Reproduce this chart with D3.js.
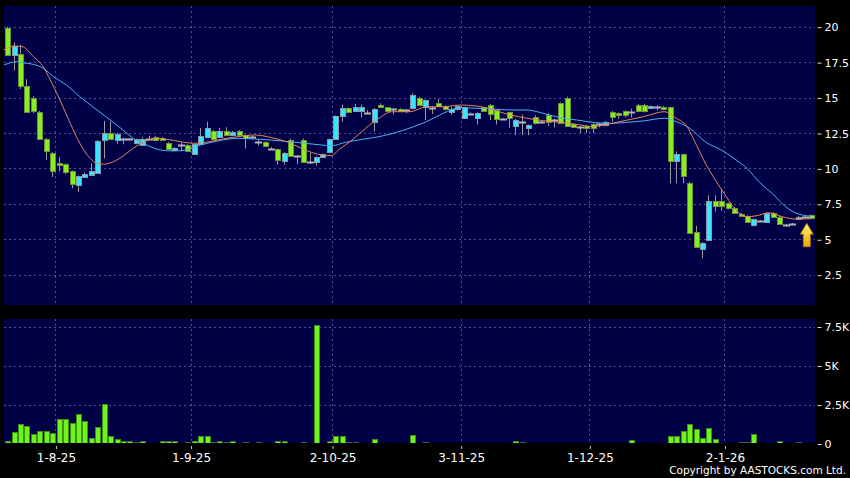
<!DOCTYPE html>
<html>
<head>
<meta charset="utf-8">
<script src="https://cdn.jsdelivr.net/npm/d3@7"></script>
<style>
body { margin: 0; background: #000; }
svg { display: block; }
text { font-family: "DejaVu Sans", sans-serif; fill: #fff; }
</style>
</head>
<body>
<svg id="chart" width="850" height="478"></svg>
<script>
// DATA (one entry per trading day)
var opens  = [19.9,18.05,18.05,15.8,15.0,14.0,12.1,11.1,10.4,10.3,9.8,8.85,9.4,9.5,9.7,12.0,12.5,12.05,12.1,12.1,11.8,11.7,12.1,12.2,12.15,11.8,11.35,11.65,11.65,11.0,11.75,12.25,
  12.65,12.25,12.65,12.4,12.65,12.35,12.2,11.85,11.85,11.4,11.35,10.55,12.0,10.9,12.0,10.45,10.45,10.8,11.1,12.05,13.7,14.25,14.05,14.05,13.9,13.25,14.45,14.3,14.2,14.2,14.15,14.2,
  15.0,14.3,14.25,14.65,14.4,14.0,14.2,13.55,13.85,13.55,14.3,14.5,14.1,13.5,13.95,13.0,13.3,12.85,13.6,13.3,13.75,13.4,14.6,15.0,13.15,12.95,13.0,13.1,13.1,13.1,
  13.95,13.9,14.05,14.0,14.5,14.5,14.3,14.35,14.35,14.3,10.5,11.0,9.0,5.5,4.3,4.95,7.7,7.7,7.55,7.2,6.8,6.65,6.0,6.3,6.25,6.85,6.6,6.0,6.1,6.5,6.6,6.7];
var highs  = [20.0,18.9,18.7,16.3,15.1,14.05,12.15,11.15,10.8,10.35,9.85,9.5,9.7,10.35,12.0,13.35,13.3,12.5,12.15,12.15,12.1,12.2,12.3,12.3,12.2,11.85,11.5,11.85,11.7,11.75,12.85,13.3,
  12.7,12.85,12.9,12.65,12.7,12.4,12.3,12.0,11.9,11.5,11.4,11.15,12.1,10.95,12.1,11.1,10.85,11.05,12.1,13.75,14.5,14.3,14.55,14.5,14.1,14.25,14.6,14.35,14.25,14.25,14.2,15.3,
  15.05,14.85,14.4,14.9,14.45,14.35,14.45,14.35,13.95,13.95,14.35,14.55,14.15,13.55,14.0,13.5,13.8,13.1,13.75,13.35,13.9,13.5,14.65,15.05,13.2,13.0,13.05,13.2,13.2,13.35,
  14.05,13.95,14.1,14.2,14.55,14.55,14.45,14.45,14.4,14.35,11.2,11.05,9.05,5.95,4.8,8.1,8.1,8.55,7.6,7.25,6.85,6.7,6.45,6.35,6.9,6.9,6.65,6.1,6.15,6.65,6.65,6.75];
var lows   = [17.95,16.9,15.6,13.95,13.9,12.0,10.6,9.4,9.8,9.6,8.6,8.35,9.35,9.45,9.65,10.7,12.05,11.75,11.7,12.05,11.7,11.6,12.05,11.95,11.95,11.3,11.3,11.2,11.2,10.95,11.7,12.2,
  12.0,12.2,12.35,12.35,12.35,11.4,12.1,11.6,11.55,11.35,10.25,10.25,10.85,10.3,10.4,10.3,10.2,10.75,11.05,12.0,13.3,13.95,14.0,13.6,13.85,12.6,14.25,14.0,13.8,14.0,13.9,14.15,
  14.45,13.4,13.85,14.35,14.1,13.8,14.1,13.5,13.8,13.1,14.0,13.4,13.1,13.4,12.85,12.35,12.35,12.35,13.1,13.25,13.0,12.9,13.15,12.95,12.9,12.5,12.5,12.5,12.9,13.0,
  13.3,13.5,13.6,13.6,14.0,13.95,14.25,14.1,14.1,8.95,8.95,8.95,5.45,4.4,3.65,4.9,6.95,7.0,7.1,6.8,6.65,6.2,5.9,6.25,6.2,6.5,6.05,5.95,6.05,6.45,6.55,6.45];
var closes = [18.0,18.65,15.8,14.0,14.05,12.1,11.25,9.8,10.35,9.75,8.85,9.45,9.6,9.8,11.95,12.5,12.1,12.45,12.1,12.1,12.05,12.1,12.1,12.0,12.0,11.35,11.45,11.65,11.25,11.7,12.3,12.85,
  12.1,12.65,12.4,12.6,12.4,12.15,12.2,11.85,11.6,11.4,10.55,11.1,10.9,10.9,10.45,10.45,10.8,11.0,12.05,13.7,14.25,14.0,14.3,14.3,13.9,14.2,14.3,14.05,14.2,14.05,14.15,15.15,
  14.5,14.8,14.25,14.45,14.2,14.2,14.4,14.3,13.85,13.9,14.05,13.9,13.5,13.5,13.5,13.45,13.3,13.05,13.2,13.3,13.25,13.4,13.2,13.0,12.95,12.95,12.85,12.85,13.1,13.3,
  13.6,13.75,13.75,14.0,14.05,14.1,14.4,14.35,14.2,10.5,11.0,9.45,5.5,4.45,4.75,7.7,7.35,7.35,7.2,6.85,6.7,6.25,6.4,6.3,6.85,6.55,6.1,6.0,6.1,6.6,6.6,6.5];
var volumes = [170,720,1240,1110,600,830,830,700,1540,1540,1300,1900,1430,360,1040,2560,510,280,130,130,120,130,60,40,130,130,130,60,120,190,470,470,
  100,130,80,130,60,120,20,80,60,60,190,130,60,30,80,30,7580,60,130,470,470,120,100,60,60,260,40,10,10,60,10,550,
  60,120,40,40,20,20,20,30,60,60,20,20,20,30,30,170,120,40,20,20,30,20,40,60,60,30,50,20,30,40,
  40,50,50,210,40,20,20,20,20,470,500,790,1280,940,340,980,320,60,60,60,100,100,620,30,60,60,130,60,60,80,50,50];

// moving averages, read at sampled day positions
var shortIdx = [-0.5,1,2.3,4.1,5.6,6.7,8.2,9.8,11.3,12.9,13.9,15,16.5,18,19.6,21.7,23.2,24.8,26.9,29,31.5,33.4,35.9,38.5,41.1,43.7,46.3,48.9,50.4,51.5,53.6,55.7,57.8,59.8,62.6,65.2,67.8,70.4,73,75.6,78.2,80.8,83.3,85.9,88.5,91.1,93.7,96.3,98.9,102.2,104,105.6,107.2,108.6,110.2,111.8,113.4,115,116.4,118.5,120.5,122.6,125];
var shortMA  = [18.36,18.64,18.6,17.88,17.18,16.24,14.83,13.18,11.77,10.71,10.36,10.3,10.47,10.87,11.42,11.95,12.12,12.05,11.89,11.77,11.89,12.07,12.24,12.36,12.17,11.84,11.3,10.95,10.9,11.3,12.0,12.83,13.54,14.0,14.0,14.35,14.35,14.47,14.4,14.12,13.77,13.54,13.37,13.25,13.11,12.95,13.15,13.4,13.65,14.0,13.54,13.0,11.6,10.3,9.1,8.0,7.0,6.6,6.65,6.87,6.59,6.43,6.45];
var longIdx  = [-0.5,1.5,2.5,4,5.6,7.2,9.2,11.3,13.4,16,18,19.6,21.7,23.8,25.8,27.9,30,31.5,33.4,35.9,38.5,41.1,43.7,46.3,48.9,50.4,52.6,55.2,57.8,60.3,62.6,65.2,67.8,70.4,73,75.6,78.2,80.8,83.3,85.9,88.5,91.1,93.7,96.3,98.9,102.2,104,106.1,108.6,111,113,115,117,119,121,122.6,125];
var longMA   = [17.3,17.53,17.45,17.35,17.07,16.47,15.89,15.06,14.31,13.42,12.71,12.12,11.65,11.3,11.23,11.3,11.65,11.81,12.0,12.12,12.07,12.0,11.89,11.77,11.65,11.6,11.84,12.05,12.24,12.52,12.85,13.3,13.89,14.28,14.24,14.19,14.12,14.12,13.89,13.58,13.42,13.25,13.18,13.25,13.35,13.54,13.3,12.83,11.85,11.3,10.7,10.0,9.0,8.2,7.3,6.85,6.62];

var priceTicks = [2.5,5,7.5,10,12.5,15,17.5,20];
var volTicks = [0,2500,5000,7500];
var volTickLabels = ["0","2.5K","5K","7.5K"];
var dateTickIdx = [7,28,50,70,90,111];
var dateTickLabels = ["1-8-25","1-9-25","2-10-25","3-11-25","1-12-25","2-1-26"];

// LAYOUT
var panelL = 4, panelR = 815;
var mainTop = 6, mainBot = 305;
var volTop = 319, volBot = 443;

var svg = d3.select("#chart");
svg.append("rect").attr("width",850).attr("height",478).attr("fill","#000");

var x = d3.scaleLinear().domain([0, opens.length - 1]).range([7.2, 811.3]);
var yP = d3.scaleLinear().domain([0, 20]).range([310.1, 26.7]);
var yV = d3.scaleLinear().domain([0, 7500]).range([443.5, 326.5]);

var defs = svg.append("defs");
defs.append("clipPath").attr("id","clipMain").append("rect")
  .attr("x",panelL).attr("y",mainTop).attr("width",panelR-panelL).attr("height",mainBot-mainTop);
defs.append("clipPath").attr("id","clipVol").append("rect")
  .attr("x",panelL).attr("y",volTop).attr("width",panelR-panelL).attr("height",volBot-volTop);

var grad = defs.append("linearGradient").attr("id","arrowGrad").attr("x1",0).attr("y1",0).attr("x2",0).attr("y2",1);
grad.append("stop").attr("offset","0%").attr("stop-color","#fff27a");
grad.append("stop").attr("offset","100%").attr("stop-color","#f0a800");

// panels
svg.append("rect").attr("x",panelL).attr("y",mainTop).attr("width",panelR-panelL).attr("height",mainBot-mainTop).attr("fill","#000046");
svg.append("rect").attr("x",panelL).attr("y",volTop).attr("width",panelR-panelL).attr("height",volBot-volTop).attr("fill","#000046");

var gridStyle = function(sel) {
  sel.attr("stroke","#50508a").attr("stroke-width",1).attr("stroke-dasharray","2,3").attr("shape-rendering","crispEdges");
};

// horizontal grid
svg.append("g").selectAll("line").data(priceTicks).enter().append("line")
  .attr("x1",panelL).attr("x2",panelR)
  .attr("y1",d => Math.round(yP(d))+0.5).attr("y2",d => Math.round(yP(d))+0.5)
  .call(gridStyle);
svg.append("g").selectAll("line").data(volTicks.slice(1)).enter().append("line")
  .attr("x1",panelL).attr("x2",panelR)
  .attr("y1",d => Math.round(yV(d))+0.5).attr("y2",d => Math.round(yV(d))+0.5)
  .call(gridStyle);

// vertical grid in both panels
[[mainTop,mainBot],[volTop,volBot]].forEach(function(p) {
  svg.append("g").selectAll("line").data(dateTickIdx).enter().append("line")
    .attr("x1",d => Math.round(x(d+0.5))+0.5).attr("x2",d => Math.round(x(d+0.5))+0.5)
    .attr("y1",p[0]).attr("y2",p[1])
    .call(gridStyle);
});

// CANDLES
var days = d3.range(opens.length);
var candles = svg.append("g").attr("clip-path","url(#clipMain)");

candles.selectAll("line.wick").data(days).enter().append("line")
  .attr("class","wick")
  .attr("x1",i => Math.round(x(i))+0.5).attr("x2",i => Math.round(x(i))+0.5)
  .attr("y1",i => yP(highs[i])).attr("y2",i => yP(lows[i]))
  .attr("stroke","#9a9a9a").attr("stroke-width",1);

candles.selectAll("rect.body").data(days.filter(i => opens[i] !== closes[i])).enter().append("rect")
  .attr("class","body")
  .attr("x",i => Math.round(x(i)) - 2)
  .attr("y",i => Math.round(yP(Math.max(opens[i],closes[i])))+0.5)
  .attr("width",5)
  .attr("height",i => Math.max(2, Math.round(Math.abs(yP(opens[i]) - yP(closes[i])))))
  .attr("fill",i => closes[i] > opens[i] ? "#34e6ff" : "#84f01e")
  .attr("stroke",i => closes[i] > opens[i] ? "#8a98a8" : "#6f8f3a")
  .attr("stroke-width",1)
  .attr("shape-rendering","crispEdges");

candles.selectAll("line.doji").data(days.filter(i => opens[i] === closes[i])).enter().append("line")
  .attr("class","doji")
  .attr("x1",i => Math.round(x(i)) - 3).attr("x2",i => Math.round(x(i)) + 4)
  .attr("y1",i => Math.round(yP(closes[i]))+0.5).attr("y2",i => Math.round(yP(closes[i]))+0.5)
  .attr("stroke","#b4b4b4").attr("stroke-width",2);

// MOVING AVERAGES
var maLine = d3.line().curve(d3.curveMonotoneX);
candles.append("path")
  .attr("d", maLine(longIdx.map((d,i) => [x(d), yP(longMA[i])])))
  .attr("fill","none").attr("stroke","#4cb2ec").attr("stroke-width",1);
candles.append("path")
  .attr("d", maLine(shortIdx.map((d,i) => [x(d), yP(shortMA[i])])))
  .attr("fill","none").attr("stroke","#e8845a").attr("stroke-width",1);

// arrow under the last candle
var last = opens.length - 1;
var ax = x(last) - 4.5, ay = yP(lows[last]) + 4.5;
svg.append("path")
  .attr("d", "M"+ax+","+ay+" l6.5,11 h-3 v12.5 h-7 v-12.5 h-3 z")
  .attr("fill","url(#arrowGrad)").attr("stroke","#b07a00").attr("stroke-width",0.8);

// VOLUME
svg.append("g").attr("clip-path","url(#clipVol)")
  .selectAll("rect").data(days).enter().append("rect")
  .attr("x",i => Math.round(x(i)) - 2)
  .attr("y",i => Math.round(yV(volumes[i]))+0.5)
  .attr("width",5)
  .attr("height",i => Math.max(0.5, Math.round(yV(0) - yV(volumes[i]))))
  .attr("fill","#6cf51a")
  .attr("stroke",i => volumes[i] < 150 ? "#3c6a30" : "#3f8f14")
  .attr("stroke-width",1)
  .attr("shape-rendering","crispEdges");

// AXES
var yAxisP = d3.axisRight(yP).tickValues(priceTicks).tickSize(4).tickPadding(3).tickFormat(d3.format("~g"));
var gP = svg.append("g").attr("transform","translate(817.5,0.5)").call(yAxisP);
var yAxisV = d3.axisRight(yV).tickValues(volTicks).tickSize(4).tickPadding(3).tickFormat((d,i) => volTickLabels[i]);
var gV = svg.append("g").attr("transform","translate(817.5,0.5)").call(yAxisV);
[gP,gV].forEach(function(g) {
  g.select(".domain").remove();
  g.selectAll(".tick line").attr("stroke","#ddd");
  g.selectAll(".tick text").attr("fill","#fff").style("font-size","11px").style("font-family","DejaVu Sans");
});

var xAxis = d3.axisBottom(x).tickValues(dateTickIdx.map(d => d+0.5)).tickSize(3).tickPadding(4)
  .tickFormat((d,i) => dateTickLabels[i]);
var gX = svg.append("g").attr("transform","translate(0.5,446)").call(xAxis);
gX.select(".domain").remove();
gX.selectAll(".tick line").attr("stroke","#ccc");
gX.selectAll(".tick text").attr("fill","#fff").style("font-size","12px").style("font-family","DejaVu Sans");

svg.append("text")
  .attr("x",846).attr("y",474)
  .style("text-anchor","end").style("font-size","10.5px")
  .text("Copyright by AASTOCKS.com Ltd.");
</script>
</body>
</html>
